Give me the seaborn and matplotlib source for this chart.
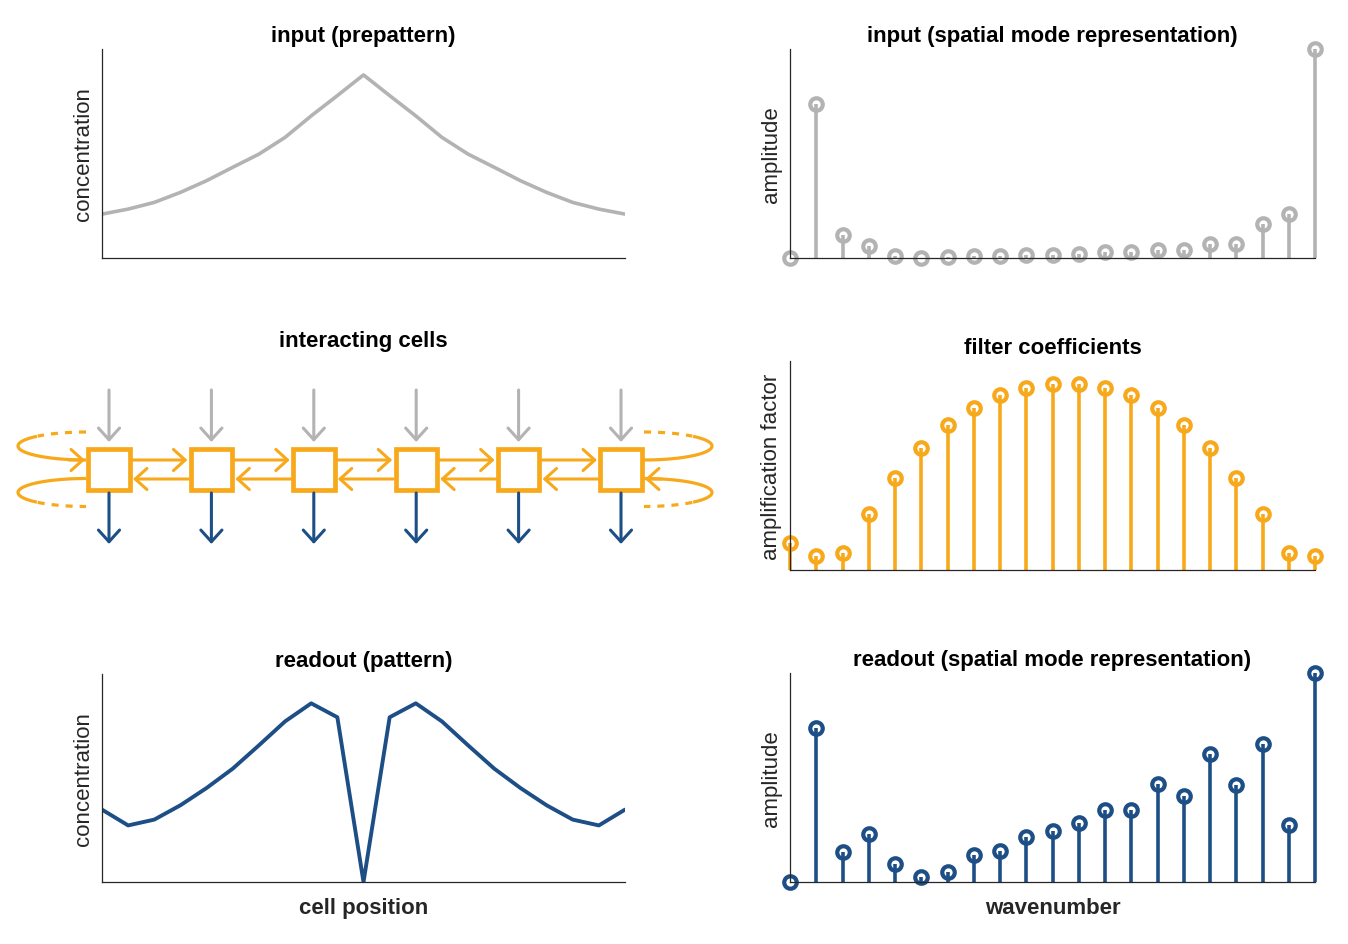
import numpy as np
import pandas as pd
import matplotlib
matplotlib.use('Agg')
import matplotlib.pyplot as plt
import seaborn as sns
from matplotlib.patches import Rectangle

sns.set_theme(style='white')
plt.rcParams['font.family'] = ['Liberation Sans', 'DejaVu Sans']

# cores
cinza = '#b3b3b3'
laranja = '#f7a91b'
azul = '#1d4f86'
texto = '#262626'

# dados
posicao = list(range(21))
entrada = [0.21, 0.234, 0.266, 0.314, 0.37, 0.434, 0.497, 0.577, 0.68, 0.777, 0.876,
           0.777, 0.68, 0.577, 0.497, 0.434, 0.37, 0.314, 0.266, 0.234, 0.21]
saida = [0.348, 0.272, 0.30, 0.369, 0.452, 0.545, 0.657, 0.772, 0.859, 0.792, 0.0,
         0.792, 0.859, 0.772, 0.657, 0.545, 0.452, 0.369, 0.30, 0.272, 0.348]

modo = list(range(21))
amp_entrada = [0, 154, 23, 12, 2.3, 0, 0.7, 2.3, 2.3, 3, 3, 4, 5.7, 5.7, 8.3, 8.3,
               14, 14, 34, 44, 209]
filtro = [26.7, 13.7, 17, 56, 92, 122, 145, 162.7, 175, 182.7, 186.7, 186.7, 182.7,
          175, 162.7, 145, 122, 92, 56, 17, 13.7]
amp_saida = [0, 154, 30, 48, 18, 5, 10, 26.7, 31, 45, 51, 59, 72, 72, 98, 85.7, 128,
             97, 138, 56.7, 209]
n_celulas = 6

W, H = 1348, 945
fig = plt.figure(figsize=(W / 100, H / 100), dpi=100)


def eixo(x0, x1, y0, y1):
    return fig.add_axes([x0 / W, 1 - y1 / H, (x1 - x0) / W, (y1 - y0) / H])


def estilo(ax, titulo, ylabel=None, xlabel=None):
    ax.set_xticks([])
    ax.set_yticks([])
    sns.despine(ax=ax)
    for s in ['left', 'bottom']:
        ax.spines[s].set_color(texto)
        ax.spines[s].set_linewidth(0.9)
    ax.set_title(titulo, fontsize=16, fontweight='bold', color='black', pad=5.5)
    if ylabel:
        ax.set_ylabel(ylabel, fontsize=16, color=texto, labelpad=6)
    if xlabel:
        ax.set_xlabel(xlabel, fontsize=16, fontweight='bold', color=texto, labelpad=11)


# linha: input
ax1 = eixo(102, 625, 50, 259)
sns.lineplot(x=posicao, y=entrada, ax=ax1, color=cinza, lw=2.6)
ax1.set_xlim(0, 20)
ax1.set_ylim(0, 1)
estilo(ax1, 'input (prepattern)', 'concentration')

# linha: readout
ax5 = eixo(102, 625, 675, 883)
sns.lineplot(x=posicao, y=saida, ax=ax5, color=azul, lw=2.8)
ax5.set_xlim(0, 20)
ax5.set_ylim(0, 1)
estilo(ax5, 'readout (pattern)', 'concentration', 'cell position')


def hastes(ax, valores, cor, topo):
    ax.vlines(modo, 0, valores, color=cor, lw=2.6, clip_on=False)
    ax.plot(modo, valores, 'o', ms=9, mfc='none', mec=cor, mew=3, clip_on=False)
    ax.set_xlim(0, 20)
    ax.set_ylim(0, topo)


ax2 = eixo(790, 1315, 50, 259)
hastes(ax2, amp_entrada, cinza, max(amp_entrada))
estilo(ax2, 'input (spatial mode representation)', 'amplitude')

ax4 = eixo(790, 1315, 362, 571)
hastes(ax4, filtro, laranja, 209.3)
estilo(ax4, 'filter coefficients', 'amplification factor')

ax6 = eixo(790, 1315, 674, 883)
hastes(ax6, amp_saida, azul, max(amp_saida))
estilo(ax6, 'readout (spatial mode representation)', 'amplitude', 'wavenumber')

# esquema das celulas (coordenadas em pixels)
ax3 = fig.add_axes([0, 1 - 570 / H, 730 / W, 250 / H])
ax3.set_xlim(0, 730)
ax3.set_ylim(570, 320)
ax3.axis('off')
ax3.text(363, 342, 'interacting cells', fontsize=16, fontweight='bold',
         color='black', ha='center', va='center')

centros = 109 + 102.4 * np.arange(n_celulas)
yc = 470.5
meio = 23
cabeca = '->,head_length=0.42,head_width=0.38'


def seta(x0, y0, x1, y1, cor):
    ax3.annotate('', xy=(x1, y1), xytext=(x0, y0),
                 arrowprops=dict(arrowstyle=cabeca, color=cor, lw=2.2,
                                 shrinkA=0, shrinkB=0, mutation_scale=20))


for i, c in enumerate(centros):
    ax3.add_patch(Rectangle((c - 20.7, yc - 20.7), 41.4, 41.4, fill=False,
                            ec=laranja, lw=3.4))
    seta(c, 391, c, 443, cinza)
    seta(c, 494, c, 545, azul)
    if i < n_celulas - 1:
        seta(c + meio, 461, centros[i + 1] - meio - 1, 461, laranja)
        seta(centros[i + 1] - meio, 480, c + meio + 1, 480, laranja)

# lacos de contorno periodico
t1 = 0.8
a, b = 68, 14
for lado, cx in [(-1, centros[0] - meio), (1, centros[-1] + meio)]:
    # laco superior
    t = np.linspace(0, np.pi, 200)
    x = cx + lado * a * np.sin(t)
    y = 447 - b * np.cos(t)
    m = t <= t1
    ax3.plot(x[m], y[m], color=laranja, lw=2.3, ls=(0, (2.2, 2.2)))
    ax3.plot(x[~m], y[~m], color=laranja, lw=2.3, solid_capstyle='butt')
    # laco inferior
    y2 = 493.5 - b * np.cos(t)
    m2 = t >= np.pi - t1
    ax3.plot(x[~m2], y2[~m2], color=laranja, lw=2.3, solid_capstyle='butt')
    ax3.plot(x[m2], y2[m2], color=laranja, lw=2.3, ls=(0, (2.2, 2.2)))

# pontas de seta nos lacos
seta(centros[0] - 40, 461, centros[0] - meio - 1, 461, laranja)
seta(centros[-1] + 40, 480, centros[-1] + meio + 1, 480, laranja)

plt.savefig('out.png', dpi=100)
